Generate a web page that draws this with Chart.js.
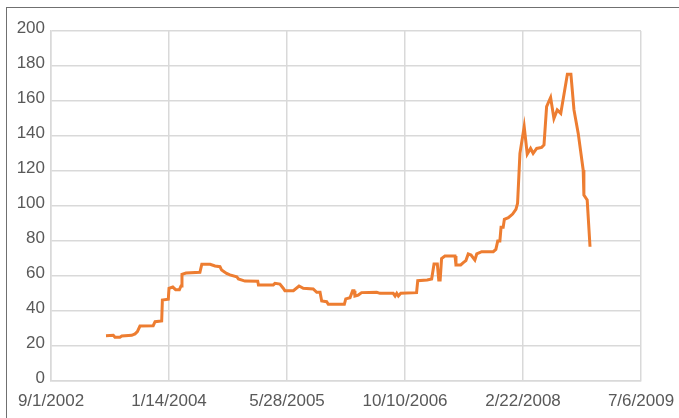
<!DOCTYPE html>
<html>
<head>
<meta charset="utf-8">
<script src="https://cdn.jsdelivr.net/npm/chart.js@4"></script>
<style>
    html, body { margin: 0; padding: 0; background: #fff; }
    body { width: 679px; height: 418px; position: relative; overflow: hidden; }
    .frame { position: absolute; left: 6px; top: 7px; width: 700px; height: 440px; border: 1px solid #707070; box-sizing: border-box; }
    canvas { position: absolute; left: 0; top: 0; }
</style>
</head>
<body>
<div class="frame"></div>
<canvas id="priceChart" width="679" height="418"></canvas>
<script>
// Dates (M/D/YYYY axis, 500-day steps)
const dates = [
    '2003-04-22', '2003-05-23', '2003-05-30', '2003-06-20', '2003-06-28', '2003-08-09', '2003-08-23', '2003-09-02',
    '2003-09-13', '2003-11-08', '2003-11-16', '2003-12-14', '2003-12-17', '2004-01-11', '2004-01-14', '2004-01-30',
    '2004-02-11', '2004-02-27', '2004-03-05', '2004-03-09', '2004-03-26', '2004-05-24', '2004-06-01', '2004-07-06',
    '2004-07-27', '2004-08-17', '2004-08-24', '2004-09-14', '2004-09-28', '2004-10-27', '2004-11-03', '2004-12-01',
    '2005-01-24', '2005-01-27', '2005-03-31', '2005-04-07', '2005-04-28', '2005-05-12', '2005-05-19', '2005-06-24',
    '2005-07-18', '2005-08-05', '2005-09-16', '2005-10-01', '2005-10-15', '2005-10-22', '2005-11-12', '2005-11-19',
    '2006-01-26', '2006-02-01', '2006-02-19', '2006-03-02', '2006-03-08', '2006-03-12', '2006-03-26', '2006-04-09',
    '2006-06-12', '2006-06-26', '2006-08-21', '2006-08-29', '2006-09-05', '2006-09-12', '2006-09-22', '2006-11-28',
    '2006-12-03', '2007-01-12', '2007-01-31', '2007-02-10', '2007-02-24', '2007-03-02', '2007-03-08', '2007-03-14',
    '2007-03-28', '2007-05-10', '2007-05-14', '2007-06-03', '2007-06-14', '2007-06-25', '2007-07-05', '2007-07-17',
    '2007-08-02', '2007-08-10', '2007-08-31', '2007-10-19', '2007-10-30', '2007-11-07', '2007-11-16', '2007-11-21',
    '2007-11-30', '2007-12-05', '2007-12-22', '2008-01-09', '2008-01-23', '2008-01-30', '2008-02-09', '2008-02-27',
    '2008-03-11', '2008-03-25', '2008-04-05', '2008-04-20', '2008-05-11', '2008-05-21', '2008-06-01', '2008-06-18',
    '2008-07-02', '2008-07-16', '2008-07-31', '2008-08-28', '2008-09-12', '2008-09-25', '2008-10-13', '2008-11-03',
    '2008-11-06', '2008-11-20', '2008-12-02'
];

const prices = [
    25.9, 26.1, 25.0, 25.0, 25.7, 26.1, 26.9, 28.2,
    31.4, 31.6, 33.9, 34.3, 46.3, 46.7, 53.0, 53.7,
    52.2, 52.2, 54.3, 61.0, 61.7, 62.1, 66.7, 66.7,
    65.7, 65.3, 63.4, 61.5, 60.6, 59.6, 58.3, 57.1,
    57.0, 54.9, 54.9, 55.8, 55.4, 53.0, 51.6, 51.6,
    54.3, 53.0, 52.6, 50.7, 50.7, 45.7, 45.3, 43.8,
    43.8, 46.9, 47.6, 51.6, 51.6, 48.6, 49.1, 50.5,
    50.7, 50.1, 50.1, 48.6, 50.1, 48.6, 50.1, 50.5,
    57.3, 57.7, 58.3, 66.9, 66.9, 57.7, 57.7, 70.0,
    71.4, 71.4, 66.3, 66.3, 67.6, 68.8, 72.6, 72.0,
    69.1, 72.6, 73.9, 73.9, 75.2, 80.0, 80.0, 87.8,
    87.8, 92.4, 93.3, 95.4, 98.1, 101.5, 130.1, 145.3,
    129.7, 132.9, 130.1, 132.9, 133.5, 134.9, 156.8, 162.0,
    150.0, 154.9, 152.9, 175.3, 175.3, 154.9, 141.5, 120.6,
    106.3, 103.4, 76.7
];

// Axis start and tick labels
const axisStart = '2002-09-01';
const xTickLabels = ['9/1/2002', '1/14/2004', '5/28/2005', '10/10/2006', '2/22/2008', '7/6/2009'];
const yTicks = [0, 20, 40, 60, 80, 100, 120, 140, 160, 180, 200];

const DAY = 86400000;
const origin = Date.parse(axisStart);
const points = dates.map((d, i) => ({ x: (Date.parse(d) - origin) / DAY, y: prices[i] }));

const tickFont = { family: '"Liberation Sans", Arial, sans-serif', size: 17 };

new Chart(document.getElementById('priceChart').getContext('2d'), {
    type: 'line',
    data: {
        datasets: [{
            data: points,
            borderColor: '#ED7D31',
            borderWidth: 3,
            pointRadius: 0,
            tension: 0,
            fill: false
        }]
    },
    options: {
        responsive: false,
        animation: false,
        layout: { padding: { left: 0, top: 31, right: 38, bottom: 0 } },
        plugins: { legend: { display: false }, tooltip: { enabled: false } },
        scales: {
            x: {
                type: 'linear',
                min: 0,
                max: 2500,
                afterBuildTicks: scale => {
                    scale.ticks = xTickLabels.map((_, i) => ({ value: i * 500 }));
                },
                afterFit: scale => {
                    scale.height = 37;
                    // keep the edge labels from pushing the plot area inward
                    scale.paddingLeft = 0;
                    scale.paddingRight = 0;
                },
                grid: { color: '#d9d9d9', lineWidth: 1.5, drawTicks: false },
                border: { color: '#d9d9d9', width: 1.5 },
                ticks: {
                    padding: 10,
                    color: '#595959',
                    font: tickFont,
                    maxRotation: 0,
                    autoSkip: false,
                    callback: (v) => xTickLabels[Math.round(v / 500)]
                }
            },
            y: {
                min: 0,
                max: 200,
                afterBuildTicks: scale => {
                    scale.ticks = yTicks.map(v => ({ value: v }));
                },
                afterFit: scale => {
                    scale.width = 51;
                    scale.paddingTop = 0;
                    scale.paddingBottom = 0;
                },
                grid: { color: '#d9d9d9', lineWidth: 1.5, drawTicks: false },
                border: { color: '#d9d9d9', width: 1.5 },
                ticks: {
                    padding: 6,
                    labelOffset: -3,
                    color: '#595959',
                    font: tickFont
                }
            }
        }
    }
});
</script>
</body>
</html>
